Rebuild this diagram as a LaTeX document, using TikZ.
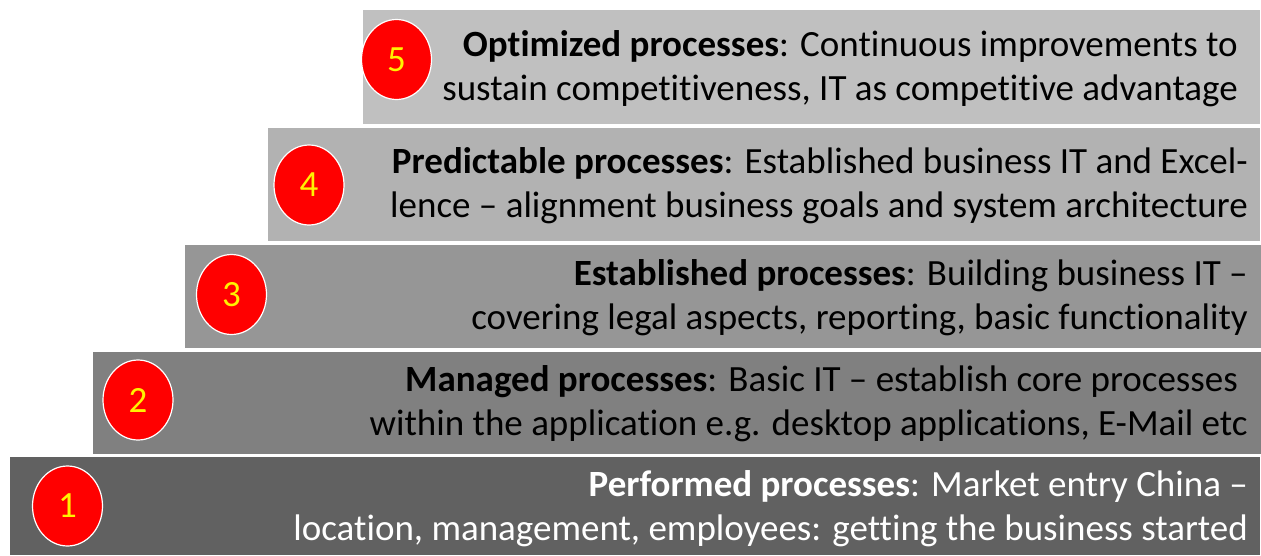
\documentclass[tikz,border=0pt]{standalone}
\usepackage{fontspec}
\setmainfont{Carlito}[Ligatures=NoCommon]
\usetikzlibrary{shapes.geometric}
\definecolor{stepA}{HTML}{616161}
\definecolor{stepB}{HTML}{808080}
\definecolor{stepC}{HTML}{969696}
\definecolor{stepD}{HTML}{B2B2B2}
\definecolor{stepE}{HTML}{C0C0C0}
\tikzset{
  stair/.style={rectangle, draw=white, line width=1.5pt, inner sep=0pt, anchor=center},
  badge/.style={ellipse, draw=white, line width=1.2pt, fill=red, text=yellow,
    minimum width=70pt, minimum height=80pt, inner sep=0pt, font=\fontsize{37}{40}\selectfont},
  desc/.style={anchor=east, align=right, inner sep=0pt, font=\fontsize{37}{44}\selectfont}
}
\begin{document}
\begin{tikzpicture}[x=1pt,y=-1pt]
\useasboundingbox (0,0) rectangle (1261,555);
% stair steps, bottom to top
\node[stair, fill=stepA, minimum width=1252pt, minimum height=100pt] (b1) at (635,506) {};
\node[stair, fill=stepB, minimum width=1170pt, minimum height=104pt] (b2) at (677,403) {};
\node[stair, fill=stepC, minimum width=1077pt, minimum height=104pt] (b3) at (723,296.5) {};
\node[stair, fill=stepD, minimum width=994pt, minimum height=115pt] (b4) at (764,184.5) {};
\node[stair, fill=stepE, minimum width=899pt, minimum height=116pt] (b5) at (811.5,67) {};
% numbered badges
\node[badge] (c1) at (67.5,506) {1};
\node[badge] (c2) at (138,400) {2};
\node[badge] (c3) at (231.5,294.5) {3};
\node[badge] (c4) at (309,185) {4};
\node[badge] (c5) at (396.5,59.5) {5};
% descriptions
\node[desc, text=white] (t1) at (1248,509) {\textbf{Performed processes}: Market entry China –\\location, management, employees: getting the business started};
\node[desc] (t2) at (1248,403.5) {\textbf{Managed processes}: Basic IT – establish core processes\hspace*{10pt}\\within the application e.g. desktop applications, E-Mail etc};
\node[desc] (t3) at (1248,298) {\textbf{Established processes}: Building business IT –\\covering legal aspects, reporting, basic functionality};
\node[desc] (t4) at (1248,186) {\textbf{Predictable processes}: Established business IT and Excel-\\lence – alignment business goals and system architecture};
\node[desc] (t5) at (1238,69) {\textbf{Optimized processes}: Continuous improvements to\\sustain competitiveness, IT as competitive advantage};
\end{tikzpicture}
\end{document}
